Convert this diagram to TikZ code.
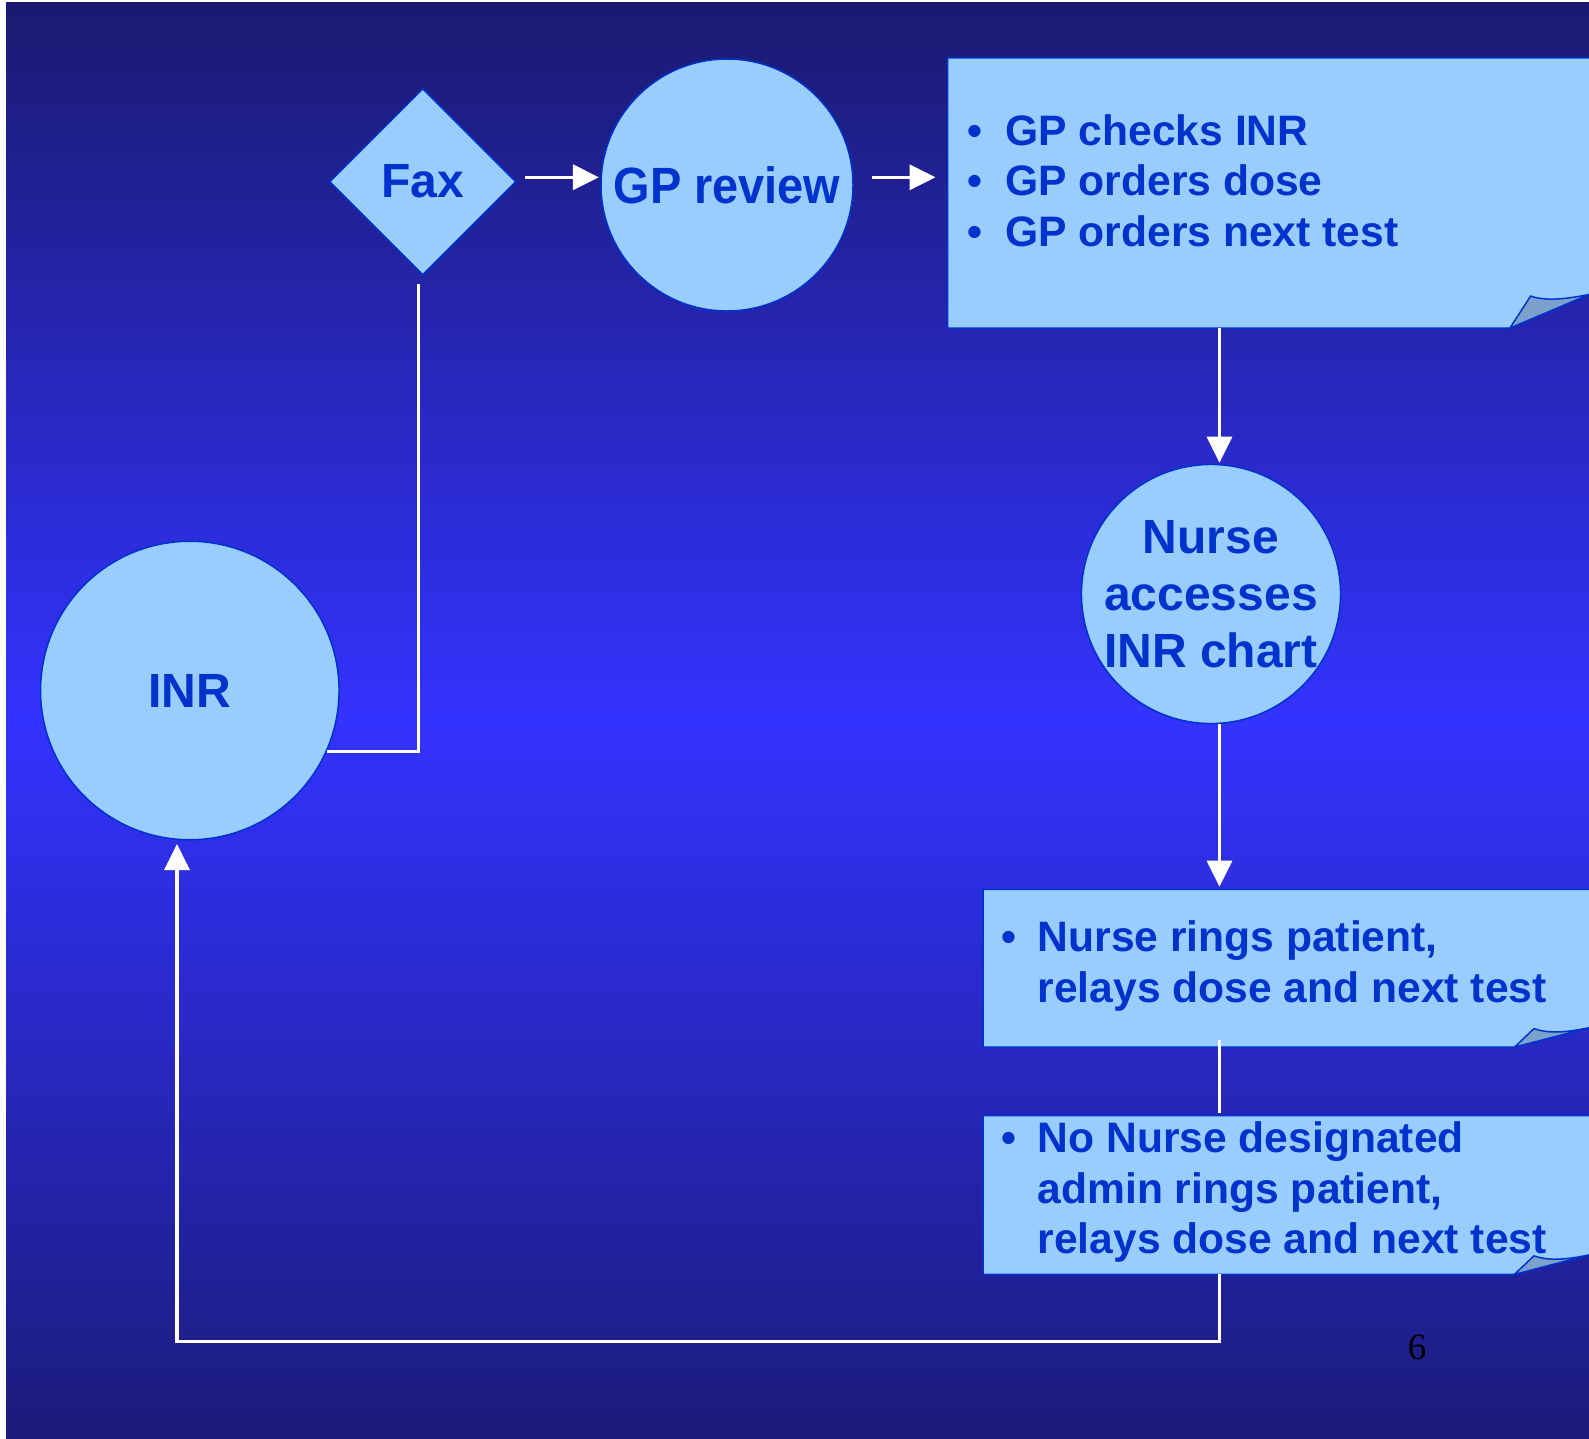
\documentclass[tikz,border=0pt]{standalone}
\usepackage{fontspec}
\setmainfont{Liberation Sans}
\newfontfamily\pagefont{Liberation Serif}
\newfontfamily\narrowsans{Liberation Sans}[FakeStretch=0.92]
\usetikzlibrary{shapes.geometric, arrows.meta, calc}

\definecolor{bgtop}{RGB}{26,26,112}
\definecolor{bgmid}{RGB}{51,51,255}
\definecolor{bgbot}{RGB}{27,27,122}
\definecolor{paleblue}{RGB}{153,204,255}
\definecolor{inkblue}{RGB}{0,51,204}
\definecolor{flapblue}{RGB}{122,160,204}

\tikzset{
    bubble/.style={circle, draw=inkblue, line width=1.5pt, fill=paleblue, text=inkblue,
        inner sep=0pt, align=center, font=\fontsize{48}{57}\selectfont\bfseries},
    decision/.style={diamond, aspect=1, draw=inkblue, line width=1.5pt, fill=paleblue,
        text=inkblue, inner sep=0pt, minimum size=186.5pt, font=\fontsize{48}{57}\selectfont\bfseries},
    notebox/.style={rectangle, inner sep=0pt, anchor=north west},
    notetext/.style={inner sep=0pt, anchor=base west, text=inkblue,
        font=\fontsize{42.6}{50.6}\selectfont\bfseries},
    arrowline/.style={draw=white, line width=3.4pt, -{Triangle[length=26pt, width=25pt]}},
    plainline/.style={draw=white, line width=3.4pt},
}

% sticky note with a curled corner: node, curl width, curl height
\newcommand{\dogear}[3]{%
    \fill[paleblue] (#1.north west) -- (#1.north east) -- ([yshift=#3]#1.south east)
        -- ([xshift=-#2]#1.south east) -- (#1.south west) -- cycle;
    \draw[inkblue, line width=1.5pt] (#1.north east) -- (#1.north west) -- (#1.south west)
        -- ([xshift=-#2]#1.south east) -- ([yshift=#3]#1.south east);
    \filldraw[fill=flapblue, draw=inkblue, line width=1.5pt] ([xshift=-#2]#1.south east)
        -- ++({0.26*#2}, {0.95*#3})
        .. controls ++(15pt, -5pt) and ([xshift=-25pt, yshift=#3-5pt]#1.south east)
        .. ([yshift=#3]#1.south east) -- cycle;}

\begin{document}
\begin{tikzpicture}[x=1pt, y=-1pt]
    \useasboundingbox (0, 0) rectangle (1589, 1438);
    \fill[top color=bgtop, bottom color=bgbot, middle color=bgmid] (6, 2) rectangle (1589, 1438);

    \node[notebox, minimum width=641.5pt, minimum height=269.9pt] (plan) at (947.5, 57.8) {};
    \node[notebox, minimum width=606pt, minimum height=157.5pt] (call) at (983, 889.3) {};
    \node[notebox, minimum width=606pt, minimum height=158.3pt] (admin) at (983, 1115.7) {};
    \dogear{plan}{79.5pt}{33.7pt}
    \dogear{call}{75pt}{19.5pt}
    \dogear{admin}{75pt}{19.5pt}

    \node[notetext] (plantext) at (967.6, 145) {\begin{tabular}[t]{@{}l@{\hspace{22.7pt}}l@{}}
        \textbullet & GP checks INR\\
        \textbullet & GP orders dose\\
        \textbullet & GP orders next test
    \end{tabular}};
    \node[notetext] (calltext) at (1001.3, 951.7) {\begin{tabular}[t]{@{}l@{\hspace{21.3pt}}l@{}}
        \textbullet & Nurse rings patient,\\
        & relays dose and next test
    \end{tabular}};
    \node[notetext] (admintext) at (1001.3, 1152.7) {\begin{tabular}[t]{@{}l@{\hspace{21.3pt}}l@{}}
        \textbullet & No Nurse designated\\
        & admin rings patient,\\
        & relays dose and next test
    \end{tabular}};

    \node[decision] (fax) at (422.8, 181.7) {Fax};
    \node[bubble, minimum size=252pt, font=\fontsize{51}{57}\narrowsans\bfseries] (gp) at (727, 185) {GP review};
    \node[bubble, minimum size=253.5pt] (nurse) at (1211, 594) {Nurse\\accesses\\INR chart};
    \node[bubble, minimum size=298.5pt] (inr) at (189.8, 690.5) {INR};

    \coordinate (row) at (0, 177.3);
    \coordinate (spine) at (1219.5, 0);
    \coordinate (loop) at (177, 1341.7);

    \draw[arrowline, shorten <=8pt, shorten >=1.3pt] (fax.east |- row) -- (gp.west |- row);
    \draw[arrowline, shorten <=18pt, shorten >=12pt] (gp.east |- row) -- (plan.west |- row);
    \draw[arrowline, shorten >=1pt] (plan.south -| spine) -- (nurse.north -| spine);
    \draw[arrowline, shorten >=2.6pt] (nurse.south -| spine) -- (call.north -| spine);
    \draw[plainline, shorten <=-7pt, shorten >=2.5pt] (call.south -| spine) -- (admin.north -| spine);
    \draw[arrowline, shorten >=3.5pt] (admin.south -| spine) |- (loop) -- (inr.south -| loop);
    \draw[plainline] (inr.-24.2) -| ([xshift=-4.5pt, yshift=-8pt]fax.south);

    \node[text=black, font=\fontsize{37}{44}\pagefont] (page) at (1417, 1347.5) {6};
\end{tikzpicture}
\end{document}
